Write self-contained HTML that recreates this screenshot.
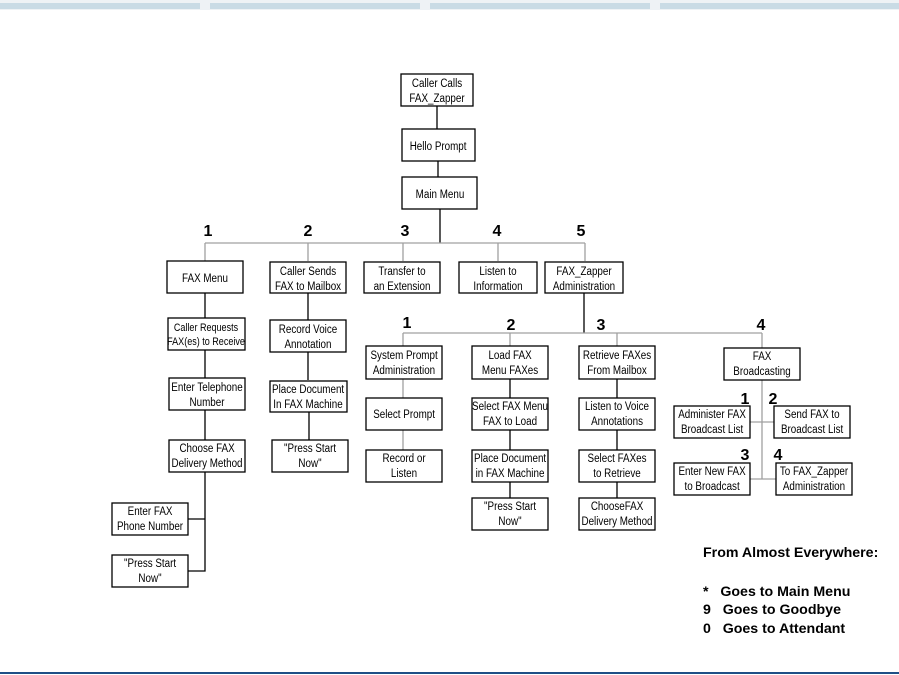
<!DOCTYPE html>
<html><head><meta charset="utf-8"><style>
html,body{margin:0;padding:0;background:#fff;}
svg{display:block}
.b{fill:#fff;stroke:#000;stroke-width:1.3}
.t{font-family:"Liberation Sans",sans-serif;font-size:12.3px;fill:#000;text-anchor:middle}
.t text{transform:scaleX(0.8);transform-box:fill-box;transform-origin:center}
.n{font-family:"Liberation Sans",sans-serif;font-weight:bold;font-size:16px;fill:#000;text-anchor:middle}
.k{stroke:#000;stroke-width:1.3;fill:none}
.g{stroke:#a0a0a0;stroke-width:1.3;fill:none}
.l{font-family:"Liberation Sans",sans-serif;font-weight:bold;font-size:14.2px;fill:#000;white-space:pre}
</style></head><body>
<svg width="899" height="675" viewBox="0 0 899 675" xmlns="http://www.w3.org/2000/svg">
<rect x="0" y="0" width="899" height="10" fill="#eef2f5"/>
<g fill="#c9dbe5">
<rect x="0" y="3" width="200" height="6"/><rect x="210" y="3" width="210" height="6"/><rect x="430" y="3" width="220" height="6"/><rect x="660" y="3" width="239" height="6"/>
</g>
<rect x="0" y="672" width="899" height="2" fill="#1f4f86"/>

<path class="k" d="M437 106V129M438 161V177M440 209V243"/>
<path class="g" d="M205 243H585M205 243V261M308 243V261M403 243V261M498 243V261M585 243V261"/>
<path class="k" d="M205 293V318M205 350V378M205 410V440M205 472V571H188M205 519H188"/>
<path class="k" d="M308 293V320M308 352V380M309 412V440"/>
<path class="k" d="M584 293V333"/>
<path class="g" d="M403 333H762M403 333V346M510 333V346M617 333V346M762 333V348"/>
<path class="g" d="M403 379V398M403 430V450"/>
<path class="k" d="M510 379V398M510 430V450M510 482V498"/>
<path class="k" d="M617 379V398M617 430V450M617 482V498"/>
<path class="g" d="M762 380V479M750 422H774M750 479H776"/>

<g class="b">
<rect x="401" y="74" width="72" height="32"/>
<rect x="402" y="129" width="73" height="32"/>
<rect x="402" y="177" width="75" height="32"/>
<rect x="167" y="261" width="76" height="32"/>
<rect x="270" y="262" width="76" height="31"/>
<rect x="364" y="262" width="76" height="31"/>
<rect x="459" y="262" width="78" height="31"/>
<rect x="545" y="262" width="78" height="31"/>
<rect x="168" y="318" width="77" height="32"/>
<rect x="169" y="378" width="76" height="32"/>
<rect x="169" y="440" width="76" height="32"/>
<rect x="112" y="503" width="76" height="32"/>
<rect x="112" y="555" width="76" height="32"/>
<rect x="270" y="320" width="76" height="32"/>
<rect x="270" y="381" width="77" height="31"/>
<rect x="272" y="440" width="76" height="32"/>
<rect x="366" y="346" width="76" height="33"/>
<rect x="366" y="398" width="76" height="32"/>
<rect x="366" y="450" width="76" height="32"/>
<rect x="472" y="346" width="76" height="33"/>
<rect x="472" y="398" width="76" height="32"/>
<rect x="472" y="450" width="76" height="32"/>
<rect x="472" y="498" width="76" height="32"/>
<rect x="579" y="346" width="76" height="33"/>
<rect x="579" y="398" width="76" height="32"/>
<rect x="579" y="450" width="76" height="32"/>
<rect x="579" y="498" width="76" height="32"/>
<rect x="724" y="348" width="76" height="32"/>
<rect x="674" y="406" width="76" height="32"/>
<rect x="774" y="406" width="76" height="32"/>
<rect x="674" y="463" width="76" height="32"/>
<rect x="776" y="463" width="76" height="32"/>
</g>

<g class="t">
<text x="437" y="87">Caller Calls</text><text x="437" y="102">FAX_Zapper</text>
<text x="438" y="150">Hello Prompt</text>
<text x="440" y="198">Main Menu</text>
<text x="205" y="282">FAX Menu</text>
<text x="308" y="275">Caller Sends</text><text x="308" y="290">FAX to Mailbox</text>
<text x="402" y="275">Transfer to</text><text x="402" y="290">an Extension</text>
<text x="498" y="275">Listen to</text><text x="498" y="290">Information</text>
<text x="584" y="275">FAX_Zapper</text><text x="584" y="290">Administration</text>
<text x="206" y="331" style="font-size:11.3px">Caller Requests</text><text x="206" y="345" style="font-size:11.3px">FAX(es)  to Receive</text>
<text x="207" y="391">Enter Telephone</text><text x="207" y="406">Number</text>
<text x="207" y="452">Choose FAX</text><text x="207" y="467">Delivery Method</text>
<text x="150" y="515">Enter FAX</text><text x="150" y="530">Phone Number</text>
<text x="150" y="567">"Press Start</text><text x="150" y="582">Now"</text>
<text x="308" y="333">Record Voice</text><text x="308" y="348">Annotation</text>
<text x="308" y="393">Place Document</text><text x="308" y="408">In FAX Machine</text>
<text x="310" y="452">"Press Start</text><text x="310" y="467">Now"</text>
<text x="404" y="359">System Prompt</text><text x="404" y="374">Administration</text>
<text x="404" y="418">Select Prompt</text>
<text x="404" y="462">Record or</text><text x="404" y="477">Listen</text>
<text x="510" y="359">Load FAX</text><text x="510" y="374">Menu FAXes</text>
<text x="510" y="410">Select FAX Menu</text><text x="510" y="425">FAX to Load</text>
<text x="510" y="462">Place Document</text><text x="510" y="477">in FAX Machine</text>
<text x="510" y="510">"Press Start</text><text x="510" y="525">Now"</text>
<text x="617" y="359">Retrieve FAXes</text><text x="617" y="374">From Mailbox</text>
<text x="617" y="410">Listen to Voice</text><text x="617" y="425">Annotations</text>
<text x="617" y="462">Select FAXes</text><text x="617" y="477">to Retrieve</text>
<text x="617" y="510">ChooseFAX</text><text x="617" y="525">Delivery Method</text>
<text x="762" y="360">FAX</text><text x="762" y="375">Broadcasting</text>
<text x="712" y="418">Administer FAX</text><text x="712" y="433">Broadcast List</text>
<text x="812" y="418">Send FAX to</text><text x="812" y="433">Broadcast List</text>
<text x="712" y="475">Enter New FAX</text><text x="712" y="490">to Broadcast</text>
<text x="814" y="475">To FAX_Zapper</text><text x="814" y="490">Administration</text>
</g>

<g class="n">
<text x="208" y="236">1</text><text x="308" y="236">2</text><text x="405" y="236">3</text><text x="497" y="236">4</text><text x="581" y="236">5</text>
<text x="407" y="328">1</text><text x="511" y="330">2</text><text x="601" y="330">3</text><text x="761" y="330">4</text>
<text x="745" y="404">1</text><text x="773" y="404">2</text><text x="745" y="460">3</text><text x="778" y="460">4</text>
</g>

<g class="l">
<text x="703" y="557">From Almost Everywhere:</text>
<text x="703" y="596" xml:space="preserve">*   Goes to Main Menu</text>
<text x="703" y="614" xml:space="preserve">9   Goes to Goodbye</text>
<text x="703" y="633" xml:space="preserve">0   Goes to Attendant</text>
</g>
</svg>
</body></html>
